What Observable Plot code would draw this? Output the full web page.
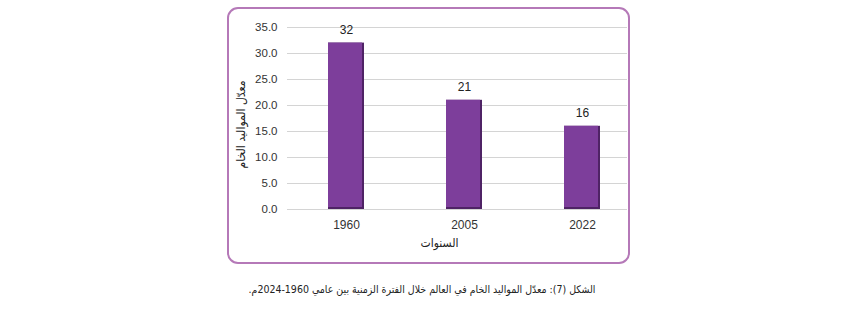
<!DOCTYPE html>
<html lang="ar"><head><meta charset="utf-8">
<script src="https://cdn.jsdelivr.net/npm/d3@7"></script>
<script src="https://cdn.jsdelivr.net/npm/@observablehq/plot@0.6"></script>
<style>
body{margin:0;background:#fff;width:862px;height:312px;position:relative;overflow:hidden}
#frame{position:absolute;left:227px;top:7px;width:399px;height:253px;border:2px solid #b579b8;border-radius:11px;box-sizing:content-box}
#chart{position:absolute;left:0;top:0}
#caption{position:absolute;top:282px;left:0;width:844px;text-align:center;direction:rtl;font-family:"DejaVu Sans Condensed","DejaVu Sans",sans-serif;font-size:10.5px;line-height:15px;color:#222}
</style></head>
<body>
<div id="frame"></div>
<div id="chart"></div>
<div id="caption">الشكل (7): معدّل المواليد الخام في العالم خلال الفترة الزمنية بين عامي 1960-2024م.</div>
<script>
const years = ["1960", "2005", "2022"];
const rates = [32, 21, 16];
const yTicks = [0, 5, 10, 15, 20, 25, 30, 35];
const yLabel = "معدّل المواليد الخام";
const xLabel = "السنوات";

const data = years.map((year, i) => ({year, rate: rates[i]}));

const chart = Plot.plot({
  width: 862,
  height: 270,
  marginLeft: 287,
  marginRight: 235,
  marginTop: 27,
  marginBottom: 61,
  x: {type: "band", domain: years, paddingInner: 0.6956, paddingOuter: 0.285, align: 0.607},
  y: {domain: [0, 35]},
  style: {fontFamily: "'Liberation Sans Narrow','Liberation Sans',sans-serif", fontSize: "12px", color: "#333", background: "transparent"},
  marks: [
    Plot.gridY(yTicks, {stroke: "#d4d4d4", strokeOpacity: 1}),
    Plot.axisY(yTicks, {tickSize: 0, tickPadding: 10, tickFormat: d => d.toFixed(1), label: null, fontSize: 11.5}),
    Plot.axisX({tickSize: 0, tickPadding: 11, label: null}),
    Plot.barY(data, {x: "year", y: "rate", fill: "#4f2365"}),
    Plot.barY(data, {x: "year", y: "rate", fill: "#7d3e9b", insetRight: 2, insetBottom: 2}),
    Plot.text(data, {x: "year", y: "rate", text: d => String(d.rate), dy: -13, fill: "#222"}),
    Plot.text([xLabel], {frameAnchor: "bottom", dy: 37, dx: -18, fontFamily: "'DejaVu Sans Condensed','DejaVu Sans',sans-serif", fontSize: 12, fill: "#222"}),
    Plot.text([yLabel], {frameAnchor: "left", textAnchor: "middle", rotate: -90, dx: -46, dy: 6, fontFamily: "'DejaVu Sans Condensed','DejaVu Sans',sans-serif", fontSize: 12, fill: "#222"})
  ]
});
document.getElementById("chart").appendChild(chart);
</script>
</body></html>
